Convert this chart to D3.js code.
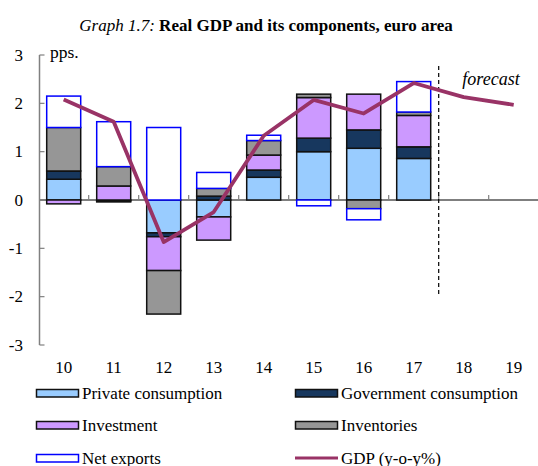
<!DOCTYPE html>
<html>
<head>
<meta charset="utf-8">
<script src="https://cdn.jsdelivr.net/npm/d3@7"></script>
<style>
  body { margin: 0; background: #fff; }
  svg { display: block; font-family: "Liberation Serif", "Times New Roman", serif; }
</style>
</head>
<body>
<svg id="chart" width="538" height="466"></svg>
<script>
// Years (20xx) on the x axis
const years = ["10", "11", "12", "13", "14", "15", "16", "17", "18", "19"]

// Contributions in pps., null where there is no bar (forecast years)
const privateCons = [0.43, -0.02, -0.68, -0.35, 0.47, 1.00, 1.07, 0.86, null, null]
const govCons     = [0.17, -0.02, -0.08,  0.08, 0.15, 0.28, 0.38, 0.24, null, null]
const investment  = [-0.08, 0.29, -0.70, -0.48, 0.31, 0.84, 0.74, 0.65, null, null]
const inventories = [0.90, 0.40, -0.90,  0.16, 0.30, 0.07, -0.18, 0.07, null, null]
const netExports  = [0.65, 0.93,  1.50,  0.33, 0.11, -0.12, -0.23, 0.63, null, null]
const gdp         = [2.08, 1.62, -0.87, -0.25, 1.33, 2.07, 1.79, 2.42, 2.13, 1.97]

const yTicks = [-3, -2, -1, 0, 1, 2, 3]

const series = [
  {key: "private", name: "Private consumption", values: privateCons, fill: "#99ccff", stroke: "#111"},
  {key: "gov", name: "Government consumption", values: govCons, fill: "#17375e", stroke: "#111"},
  {key: "inv", name: "Investment", values: investment, fill: "#cc99ff", stroke: "#111"},
  {key: "invent", name: "Inventories", values: inventories, fill: "#969696", stroke: "#111"},
  {key: "netx", name: "Net exports", values: netExports, fill: "#ffffff", stroke: "#0000ff"}
]
const lineColor = "#993366"

const svg = d3.select("#chart")

const x = d3.scaleBand()
  .domain(years)
  .range([38.7, 538.7])
  .paddingInner(0.32)
  .paddingOuter(0.16)

const y = d3.scaleLinear()
  .domain([-3, 3])
  .range([345, 55])

// Title
const title = svg.append("text")
  .attr("x", 266)
  .attr("y", 31)
  .attr("text-anchor", "middle")
  .style("font-size", "17px")
title.append("tspan").style("font-style", "italic").text("Graph 1.7: ")
title.append("tspan").style("font-weight", "bold").text("Real GDP and its components, euro area")

// Build rows for stacking
const rows = years.map(function(yr, i) {
  let row = {year: yr}
  series.forEach(function(s) { row[s.key] = s.values[i] })
  return row
}).filter(function(r) { return r.private !== null })

const stack = d3.stack()
  .keys(series.map(function(s) { return s.key }))
  .offset(d3.stackOffsetDiverging)
const stacked = stack(rows)

// Zero line (drawn first so bars sit on it)
svg.append("line")
  .attr("x1", 39.5).attr("x2", 538)
  .attr("y1", y(0)).attr("y2", y(0))
  .attr("stroke", "#000")
  .attr("stroke-width", 1.2)

stacked.forEach(function(layer, li) {
  let s = series[li]
  svg.append("g")
    .selectAll("rect")
    .data(layer)
    .enter().append("rect")
    .attr("x", function(d) { return x(d.data.year) })
    .attr("width", x.bandwidth())
    .attr("y", function(d) { return y(Math.max(d[0], d[1])) })
    .attr("height", function(d) { return Math.abs(y(d[0]) - y(d[1])) })
    .attr("fill", s.fill)
    .attr("stroke", s.stroke)
    .attr("stroke-width", 1.5)
})

// Small ticks on the zero line between categories
const step = x.step()
svg.append("g")
  .selectAll("line")
  .data(years.slice(1))
  .enter().append("line")
  .attr("x1", function(d) { return x(d) - x.paddingInner() * step / 2 })
  .attr("x2", function(d) { return x(d) - x.paddingInner() * step / 2 })
  .attr("y1", y(0) - 5)
  .attr("y2", y(0))
  .attr("stroke", "#808080")
  .attr("stroke-width", 1.2)

// Y axis
svg.append("line")
  .attr("x1", 39.5).attr("x2", 39.5)
  .attr("y1", y(3)).attr("y2", y(-3))
  .attr("stroke", "#808080")
  .attr("stroke-width", 1.5)

svg.append("g")
  .selectAll("line")
  .data(yTicks)
  .enter().append("line")
  .attr("x1", 39.5).attr("x2", 44.5)
  .attr("y1", function(d) { return y(d) }).attr("y2", function(d) { return y(d) })
  .attr("stroke", "#808080")
  .attr("stroke-width", 1.2)

svg.append("g")
  .selectAll("text")
  .data(yTicks)
  .enter().append("text")
  .attr("x", 23)
  .attr("y", function(d) { return y(d) + 5.5 })
  .attr("text-anchor", "end")
  .style("font-size", "17px")
  .text(function(d) { return d })

svg.append("text")
  .attr("x", 50).attr("y", 58)
  .style("font-size", "17.5px")
  .text("pps.")

// X labels
svg.append("g")
  .selectAll("text")
  .data(years)
  .enter().append("text")
  .attr("x", function(d) { return x(d) + x.bandwidth() / 2 })
  .attr("y", 372.5)
  .attr("text-anchor", "middle")
  .style("font-size", "17px")
  .text(function(d) { return d })

// Forecast divider
const splitX = x("18") - x.paddingInner() * step / 2
svg.append("line")
  .attr("x1", splitX).attr("x2", splitX)
  .attr("y1", 66).attr("y2", y(-2))
  .attr("stroke", "#000")
  .attr("stroke-width", 1.2)
  .attr("stroke-dasharray", "4,3")

svg.append("text")
  .attr("x", 491).attr("y", 85)
  .attr("text-anchor", "middle")
  .style("font-size", "18px")
  .style("font-style", "italic")
  .text("forecast")

// GDP line
const line = d3.line()
  .x(function(d, i) { return x(years[i]) + x.bandwidth() / 2 })
  .y(function(d) { return y(d) })

svg.append("path")
  .datum(gdp)
  .attr("d", line)
  .attr("fill", "none")
  .attr("stroke", lineColor)
  .attr("stroke-width", 3.8)
  .attr("stroke-linejoin", "round")

// Legend
const legendItems = series.concat([{key: "gdp", name: "GDP (y-o-y%)", line: true}])
const legendPos = [[36, 393], [295, 393], [36, 425], [295, 425], [36, 458], [295, 458]]
const legend = svg.append("g")
legendItems.forEach(function(item, i) {
  let p = legendPos[i]
  let g = legend.append("g").attr("transform", "translate(" + p[0] + "," + p[1] + ")")
  if (item.line) {
    g.append("line")
      .attr("x1", 0).attr("x2", 43)
      .attr("y1", 0).attr("y2", 0)
      .attr("stroke", lineColor)
      .attr("stroke-width", 3)
  } else {
    g.append("rect")
      .attr("x", 0.5).attr("y", -3.5)
      .attr("width", 42).attr("height", 7.5)
      .attr("fill", item.fill)
      .attr("stroke", item.stroke)
      .attr("stroke-width", 1.5)
  }
  g.append("text")
    .attr("x", 46).attr("y", 5.5)
    .style("font-size", "17px")
    .text(item.name)
})
</script>
</body>
</html>
